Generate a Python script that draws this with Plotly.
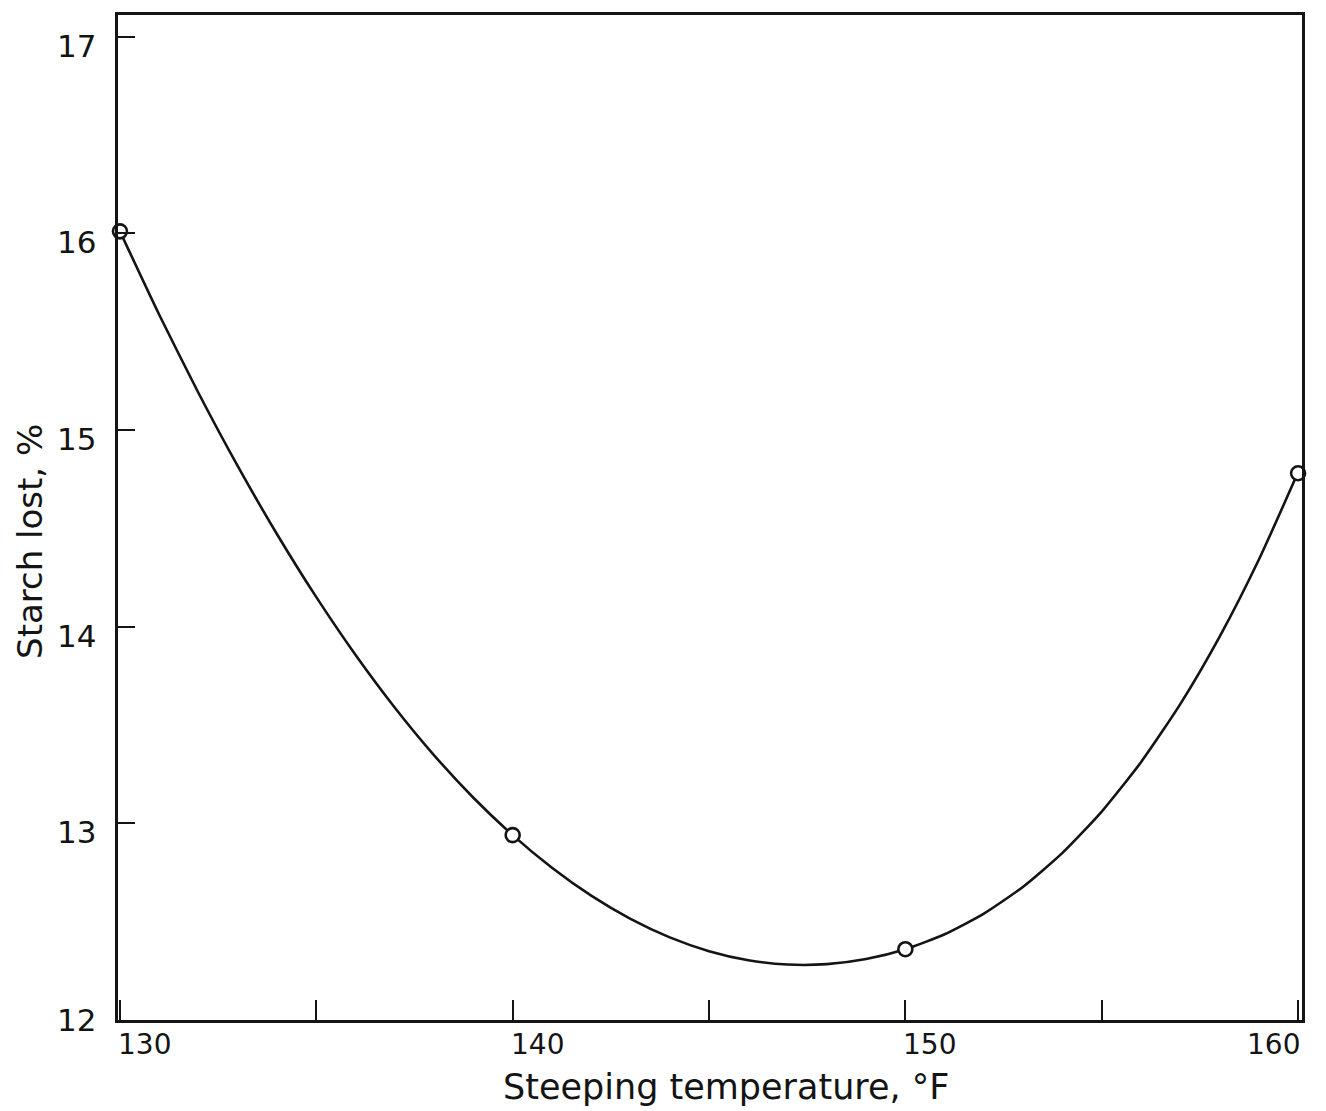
import plotly.graph_objects as go

# Measured data points (open circles)
temp_points = [130, 140, 150, 160]
starch_points = [16.01, 12.94, 12.36, 14.78]

# Fitted curve at 1 °F steps
curve_temp = [130, 131, 132, 133, 134, 135, 136, 137, 138, 139, 140,
              141, 142, 143, 144, 145, 146, 147, 148, 149, 150,
              151, 152, 153, 154, 155, 156, 157, 158, 159, 160]
curve_starch = [16.010, 15.586, 15.188, 14.816, 14.470, 14.150, 13.856, 13.588, 13.346, 13.130, 12.940,
                12.774, 12.632, 12.514, 12.420, 12.350, 12.304, 12.282, 12.284, 12.310, 12.360,
                12.436, 12.541, 12.678, 12.850, 13.060, 13.311, 13.606, 13.948, 14.340, 14.785]

x_ticks = [130, 135, 140, 145, 150, 155, 160]
x_labels = ["130", "", "140", "", "150", "", "160"]
y_ticks = [12, 13, 14, 15, 16, 17]
y_labels = ["12", "13", "14", "15", "16", "17"]

x_title = "Steeping temperature, °F"
y_title = "Starch lost, %"

INK = "#141414"
FONT = "DejaVu Sans"

fig = go.Figure()
fig.add_trace(go.Scatter(x=curve_temp, y=curve_starch, mode="lines",
                         line=dict(color=INK, width=2.6, shape="spline", smoothing=0.6),
                         hoverinfo="skip", showlegend=False))
fig.add_trace(go.Scatter(x=temp_points, y=starch_points, mode="markers",
                         marker=dict(symbol="circle", size=14, color="white",
                                     line=dict(color=INK, width=2.6)),
                         showlegend=False, cliponaxis=False))

annotations = []
x_anchor = {"130": "left", "140": "left", "150": "left", "160": "right"}
for v, t in zip(x_ticks, x_labels):
    if t:
        annotations.append(dict(x=v, y=0, xref="x", yref="paper", text=t, showarrow=False,
                                xanchor=x_anchor[t], yanchor="top", yshift=-6,
                                xshift=(-4 if x_anchor[t] == "left" else 4),
                                font=dict(family=FONT, size=28, color=INK)))
for v, t in zip(y_ticks, y_labels):
    annotations.append(dict(x=0, y=v, xref="paper", yref="y", text=t, showarrow=False,
                            xanchor="right", yanchor="middle", xshift=-20,
                            yshift=(-9 if v != 12 else 0),
                            font=dict(family=FONT, size=31, color=INK)))
annotations.append(dict(x=0.5135, y=0, xref="paper", yref="paper", text=x_title,
                        showarrow=False, xanchor="center", yanchor="top", yshift=-45,
                        font=dict(family=FONT, size=35, color=INK)))
annotations.append(dict(x=-0.0743, y=0.4757, xref="paper", yref="paper", text=y_title,
                        showarrow=False, xanchor="center", yanchor="middle", textangle=-90,
                        font=dict(family=FONT, size=34, color=INK)))

fig.update_layout(
    width=1326, height=1111,
    margin=dict(l=118, r=24, t=13, b=91),
    paper_bgcolor="white", plot_bgcolor="white",
    annotations=annotations,
    xaxis=dict(range=[129.95, 160.1], tickvals=x_ticks, ticktext=["" for _ in x_ticks],
               ticks="inside", ticklen=20, tickwidth=2, tickcolor=INK,
               showline=True, linecolor=INK, linewidth=3, mirror=True,
               showgrid=False, zeroline=False),
    yaxis=dict(range=[12, 17.11], tickvals=y_ticks, ticktext=["" for _ in y_ticks],
               ticks="inside", ticklen=17, tickwidth=2, tickcolor=INK,
               showline=True, linecolor=INK, linewidth=3, mirror=True,
               showgrid=False, zeroline=False),
)

fig.write_html("out.html")
